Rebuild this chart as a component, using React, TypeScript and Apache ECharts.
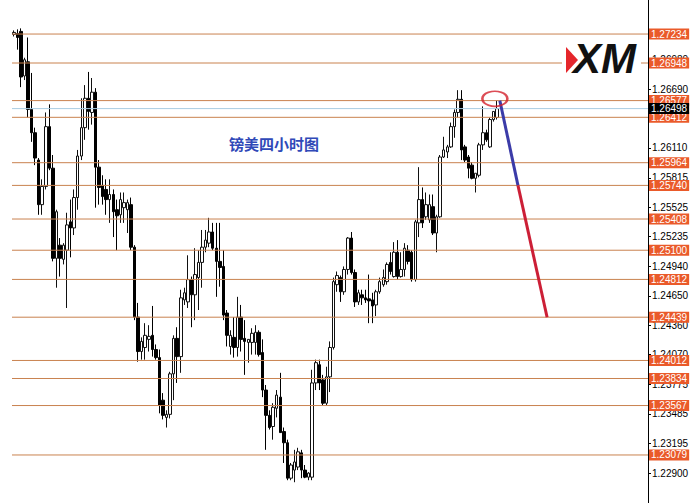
import React, { useEffect, useRef } from "react";
import * as echarts from "echarts";

const title = "镑美四小时图";
const barSlots = 179;

const openPrices = [
  1.2723, 1.2724, 1.2726, 1.2682, 1.2696, 1.2649, 1.2626, 1.2599, 1.2555, 1.2573,
  1.2632, 1.2591, 1.2502, 1.2515, 1.2501, 1.2510, 1.2538, 1.2532, 1.2562, 1.2603,
  1.2631, 1.2660, 1.2646, 1.2666, 1.2592, 1.2574, 1.2570, 1.2560, 1.2565, 1.2550,
  1.2545, 1.2552, 1.2550, 1.2555, 1.2513, 1.2444, 1.2410, 1.2414, 1.2422, 1.2426,
  1.2412, 1.2404, 1.2362, 1.2345, 1.2348, 1.2388, 1.2423, 1.2405, 1.2461, 1.2459,
  1.2481, 1.2466, 1.2483, 1.2498, 1.2513, 1.2517, 1.2528, 1.2512, 1.2499, 1.2494,
  1.2448, 1.2415, 1.2424, 1.2414, 1.2444, 1.2423, 1.2419, 1.2419, 1.2419, 1.2429,
  1.2409, 1.2372, 1.2347, 1.2336, 1.2354, 1.2365, 1.2331, 1.2320, 1.2285, 1.2293,
  1.2296, 1.2310, 1.2293, 1.2286, 1.2286, 1.2379, 1.2397, 1.2382, 1.2359, 1.2385,
  1.2414, 1.2476, 1.2483, 1.2469, 1.2491, 1.2522, 1.2488, 1.2459, 1.2466, 1.2463,
  1.2462, 1.2461, 1.2456, 1.2469, 1.2476, 1.2479, 1.2498, 1.2484, 1.2508, 1.2484,
  1.2491, 1.2510, 1.2508, 1.2481, 1.2537, 1.2560, 1.2543, 1.2540, 1.2553, 1.2527,
  1.2543, 1.2602, 1.2607, 1.2612, 1.2632, 1.2646, 1.2659, 1.2612, 1.2602, 1.2594,
  1.2581, 1.2584, 1.2614, 1.2626, 1.2612, 1.2639, 1.2641,
];

const closePrices = [
  1.2725, 1.2720, 1.2681, 1.2698, 1.2649, 1.2626, 1.2601, 1.2555, 1.2573, 1.2632,
  1.2591, 1.2502, 1.2548, 1.2502, 1.2515, 1.2535, 1.2532, 1.2562, 1.2603, 1.2631,
  1.2660, 1.2647, 1.2666, 1.2592, 1.2572, 1.2563, 1.2560, 1.2565, 1.2548, 1.2544,
  1.2560, 1.2557, 1.2557, 1.2513, 1.2444, 1.2410, 1.2420, 1.2426, 1.2425, 1.2412,
  1.2404, 1.2357, 1.2347, 1.2348, 1.2388, 1.2423, 1.2405, 1.2463, 1.2468, 1.2481,
  1.2466, 1.2486, 1.2498, 1.2513, 1.2520, 1.2528, 1.2512, 1.2499, 1.2493, 1.2446,
  1.2426, 1.2426, 1.2414, 1.2444, 1.2422, 1.2420, 1.2422, 1.2428, 1.2429, 1.2407,
  1.2372, 1.2347, 1.2335, 1.2355, 1.2367, 1.2330, 1.2320, 1.2285, 1.2298, 1.2301,
  1.2311, 1.2293, 1.2286, 1.2290, 1.2379, 1.2399, 1.2379, 1.2359, 1.2385, 1.2414,
  1.2479, 1.2485, 1.2469, 1.2491, 1.2522, 1.2488, 1.2459, 1.2468, 1.2463, 1.2461,
  1.2460, 1.2455, 1.2469, 1.2479, 1.2483, 1.2496, 1.2489, 1.2508, 1.2484, 1.2491,
  1.2512, 1.2499, 1.2481, 1.2538, 1.2560, 1.2537, 1.2555, 1.2555, 1.2527, 1.2543,
  1.2602, 1.2609, 1.2612, 1.2632, 1.2646, 1.2659, 1.2609, 1.2599, 1.2591, 1.2581,
  1.2586, 1.2614, 1.2626, 1.2619, 1.2639, 1.2647, 1.26498,
];

const lowPrices = [
  1.2721, 1.2708, 1.2671, 1.2678, 1.2641, 1.2617, 1.2594, 1.2545, 1.2545, 1.2570,
  1.2589, 1.2499, 1.2473, 1.2484, 1.2496, 1.2453, 1.2503, 1.2525, 1.2550, 1.2599,
  1.2619, 1.2629, 1.2634, 1.2552, 1.2555, 1.2555, 1.2545, 1.2537, 1.2523, 1.2510,
  1.2537, 1.2537, 1.2527, 1.2510, 1.2441, 1.2400, 1.2402, 1.2402, 1.2410, 1.2405,
  1.2402, 1.2349, 1.2343, 1.2335, 1.2344, 1.2362, 1.2379, 1.2389, 1.2456, 1.2453,
  1.2434, 1.2441, 1.2451, 1.2473, 1.2508, 1.2513, 1.2510, 1.2464, 1.2474, 1.2441,
  1.2415, 1.2407, 1.2404, 1.2405, 1.2410, 1.2387, 1.2399, 1.2407, 1.2407, 1.2405,
  1.2365, 1.2313, 1.2333, 1.2323, 1.2345, 1.2330, 1.2300, 1.2283, 1.2283, 1.2281,
  1.2293, 1.2285, 1.2285, 1.2283, 1.2283, 1.2372, 1.2372, 1.2357, 1.2357, 1.2370,
  1.2412, 1.2469, 1.2459, 1.2466, 1.2486, 1.2486, 1.2454, 1.2456, 1.2456, 1.2458,
  1.2438, 1.2438, 1.2445, 1.2467, 1.2474, 1.2476, 1.2486, 1.2483, 1.2481, 1.2483,
  1.2484, 1.2496, 1.2479, 1.2479, 1.2523, 1.2532, 1.2540, 1.2537, 1.2525, 1.2508,
  1.2542, 1.2601, 1.2601, 1.2611, 1.2621, 1.2641, 1.2599, 1.2597, 1.2581, 1.2580,
  1.2567, 1.2582, 1.2609, 1.2617, 1.2611, 1.2637, 1.2639,
];

const highPrices = [
  1.2727, 1.2728, 1.2729, 1.2700, 1.2720, 1.2685, 1.2631, 1.2601, 1.2580, 1.2646,
  1.2654, 1.2604, 1.2550, 1.2522, 1.2517, 1.2547, 1.2560, 1.2570, 1.2609, 1.2660,
  1.2673, 1.2686, 1.2680, 1.2670, 1.2599, 1.2584, 1.2580, 1.2580, 1.2570, 1.2560,
  1.2567, 1.2567, 1.2560, 1.2562, 1.2515, 1.2458, 1.2424, 1.2438, 1.2436, 1.2455,
  1.2417, 1.2412, 1.2369, 1.2352, 1.2390, 1.2426, 1.2434, 1.2471, 1.2473, 1.2505,
  1.2484, 1.2512, 1.2510, 1.2530, 1.2530, 1.2542, 1.2537, 1.2537, 1.2537, 1.2510,
  1.2451, 1.2431, 1.2444, 1.2464, 1.2456, 1.2441, 1.2422, 1.2433, 1.2436, 1.2431,
  1.2422, 1.2377, 1.2352, 1.2359, 1.2372, 1.2389, 1.2335, 1.2323, 1.2300, 1.2313,
  1.2315, 1.2313, 1.2298, 1.2291, 1.2392, 1.2402, 1.2402, 1.2387, 1.2395, 1.2420,
  1.2483, 1.2489, 1.2485, 1.2494, 1.2523, 1.2528, 1.2491, 1.2471, 1.2471, 1.2471,
  1.2486, 1.2468, 1.2471, 1.2483, 1.2491, 1.2498, 1.2508, 1.2518, 1.2520, 1.2508,
  1.2517, 1.2515, 1.2510, 1.2540, 1.2592, 1.2572, 1.2567, 1.2565, 1.2565, 1.2545,
  1.2604, 1.2622, 1.2614, 1.2636, 1.2649, 1.2668, 1.2668, 1.2614, 1.2604, 1.2597,
  1.2586, 1.2616, 1.2652, 1.2629, 1.2641, 1.2647, 1.2658,
];

const keyLevels = [
  1.27234, 1.26948, 1.26577, 1.26412, 1.25964, 1.2574, 1.25408, 1.251, 1.24812,
  1.24439, 1.24012, 1.23834, 1.23567, 1.23079,
];
const currentPrice = 1.26498;
const priceTicks = [
  1.229, 1.23195, 1.23485, 1.23775, 1.2407, 1.2436, 1.2465, 1.2494, 1.25235,
  1.25525, 1.25815, 1.2611, 1.2669, 1.2698,
];
const forecastBlue = [
  [136.8, 1.26577],
  [141.9, 1.2574],
];
const forecastRed = [
  [141.9, 1.2574],
  [150.1, 1.24439],
];
const circleMark = [[135.4, 1.26595]];

const LINE_COLOR = "#c9824f";
const TAG_COLOR = "#ea5a2a";
const FONT = '"Liberation Sans", Arial, sans-serif';

export default function App() {
  const ref = useRef<HTMLDivElement>(null);

  useEffect(() => {
    if (!ref.current) return;
    const chart = echarts.init(ref.current, undefined, { renderer: "svg" });
    const slots = Array.from({ length: barSlots }, (_, i) => String(i));
    const candles = openPrices.map((o, i) => [o, closePrices[i], lowPrices[i], highPrices[i]]);

    const levelSeries = (v: number, lineColor: string, tagColor: string) => ({
      type: "line",
      xAxisIndex: 1,
      data: [
        [-0.5, v],
        [barSlots - 0.5, v],
      ],
      showSymbol: false,
      symbol: "none",
      silent: true,
      z: 3,
      lineStyle: { color: lineColor, width: 1 },
      endLabel: {
        show: true,
        formatter: () => v.toFixed(5),
        color: "#fff",
        backgroundColor: tagColor,
        padding: [1, 2, 0, 2],
        fontSize: 10,
        fontFamily: FONT,
        distance: 1,
      },
    });

    const option: any = {
      animation: false,
      backgroundColor: "#ffffff",
      grid: { left: 12, right: 51, top: 0, bottom: 0 },
      xAxis: [
        { type: "category", data: slots, show: false, boundaryGap: true },
        { type: "value", min: -0.5, max: barSlots - 0.5, show: false },
      ],
      yAxis: {
        type: "value",
        position: "right",
        min: 1.22605,
        max: 1.2757,
        axisLine: { show: true, onZero: false, lineStyle: { color: "#000", width: 1 } },
        axisTick: { show: true, length: 3, lineStyle: { color: "#000" }, customValues: priceTicks },
        axisLabel: {
          show: true,
          customValues: priceTicks,
          formatter: (v: number) => v.toFixed(5),
          color: "#000",
          fontSize: 10,
          fontFamily: FONT,
          margin: 4,
        },
        splitLine: { show: false },
      },
      graphic: [
        { type: "rect", shape: { x: 562, y: 39, width: 79, height: 40 }, style: { fill: "#fff" }, z: 100 },
        {
          type: "polygon",
          shape: { points: [[566, 47], [578, 60], [566, 73]] },
          style: { fill: "#e5262b" },
          z: 101,
        },
        {
          type: "text",
          x: 573,
          y: 58,
          style: {
            text: "XM",
            font: 'italic bold 42px "Liberation Sans", Arial, sans-serif',
            fill: "#111",
            verticalAlign: "middle",
          },
          z: 101,
        },
        {
          type: "text",
          x: 229,
          y: 143,
          style: {
            text: title,
            font: 'bold 15px "Noto Sans CJK SC", sans-serif',
            fill: "#3049b8",
            verticalAlign: "middle",
          },
          z: 101,
        },
      ],
      series: [
        {
          type: "candlestick",
          data: candles,
          barWidth: 3,
          z: 2,
          itemStyle: {
            color: "#ffffff",
            color0: "#000000",
            borderColor: "#111111",
            borderColor0: "#000000",
            borderWidth: 1,
          },
        },
        ...keyLevels.map((v) => levelSeries(v, LINE_COLOR, TAG_COLOR)),
        levelSeries(currentPrice, "#a9cde3", "#000000"),
        {
          type: "line",
          xAxisIndex: 1,
          data: forecastBlue,
          showSymbol: false,
          symbol: "none",
          z: 5,
          lineStyle: { color: "#3b3ba8", width: 3 },
          silent: true,
        },
        {
          type: "line",
          xAxisIndex: 1,
          data: forecastRed,
          showSymbol: false,
          symbol: "none",
          z: 5,
          lineStyle: { color: "#cc1f36", width: 3 },
          silent: true,
        },
        {
          type: "scatter",
          xAxisIndex: 1,
          data: circleMark,
          symbol: "circle",
          symbolSize: [25, 15],
          z: 6,
          itemStyle: { color: "rgba(0,0,0,0)", borderColor: "#d3202c", borderWidth: 2 },
          silent: true,
        },
      ],
    };
    chart.setOption(option);
    return () => chart.dispose();
  }, []);

  return (
    <div
      ref={ref}
      style={{ position: "fixed", left: 0, top: 0, width: 699, height: 503, background: "#fff" }}
    />
  );
}
